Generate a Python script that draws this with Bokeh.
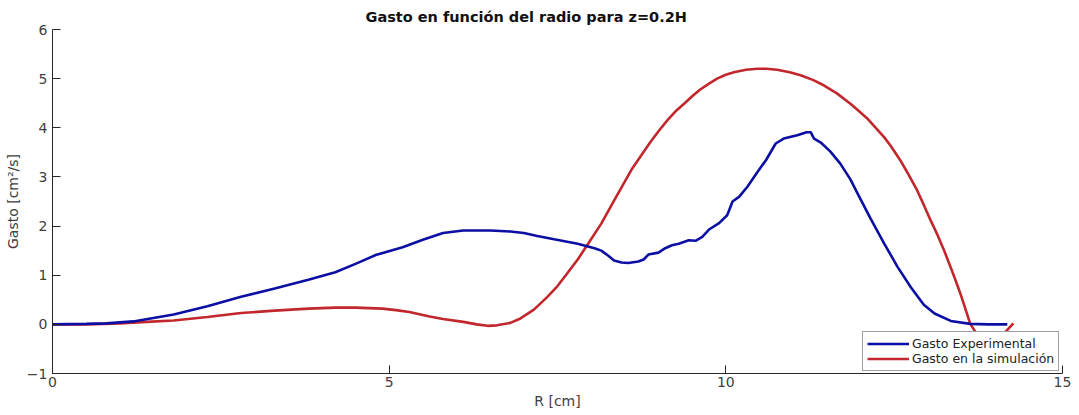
from bokeh.plotting import figure
from bokeh.models import Range1d, FixedTicker, Legend, LegendItem
from bokeh.embed import file_html
from bokeh.resources import INLINE

# Radial flow rate profiles at z = 0.2H
exp_r = [0, 0.5, 0.8, 1.2, 1.8, 2.3, 2.8, 3.3, 3.8, 4.2, 4.5, 4.8, 5.2, 5.5,
         5.8, 6.1, 6.5, 6.8, 7.0, 7.2, 7.45, 7.8, 8.05, 8.15, 8.25, 8.34, 8.45,
         8.55, 8.7, 8.78, 8.85, 9.0, 9.1, 9.2, 9.3, 9.45, 9.55, 9.65, 9.75,
         9.9, 10.02, 10.1, 10.2, 10.32, 10.47, 10.6, 10.74, 10.86, 11.06, 11.2,
         11.26, 11.31, 11.41, 11.55, 11.7, 11.85, 11.95, 12.15, 12.35, 12.55,
         12.75, 12.94, 13.1, 13.34, 13.63, 13.9, 14.18]
exp_q = [0, 0.01, 0.02, 0.06, 0.2, 0.37, 0.56, 0.73, 0.91, 1.06, 1.23, 1.41,
         1.57, 1.72, 1.86, 1.91, 1.91, 1.89, 1.86, 1.8, 1.73, 1.64, 1.55, 1.5,
         1.4, 1.3, 1.26, 1.25, 1.28, 1.32, 1.42, 1.46, 1.55, 1.61, 1.64, 1.71,
         1.7, 1.78, 1.93, 2.06, 2.22, 2.5, 2.6, 2.8, 3.1, 3.35, 3.68, 3.78,
         3.85, 3.91, 3.91, 3.78, 3.7, 3.52, 3.27, 2.95, 2.68, 2.15, 1.65, 1.17,
         0.75, 0.4, 0.22, 0.07, 0.01, 0.0, 0.0]

sim_r = [0, 0.5, 1.0, 1.4, 1.8, 2.3, 2.8, 3.3, 3.8, 4.2, 4.5, 4.9, 5.1, 5.3,
         5.6, 5.8, 6.1, 6.3, 6.46, 6.6, 6.8, 6.95, 7.15, 7.35, 7.5, 7.64, 7.8,
         7.94, 8.15, 8.34, 8.6, 8.88, 9.0, 9.13, 9.25, 9.38, 9.5, 9.62, 9.75,
         9.87, 10.0, 10.12, 10.3, 10.47, 10.6, 10.76, 10.95, 11.11, 11.3,
         11.46, 11.65, 11.85, 11.95, 12.1, 12.2, 12.35, 12.45, 12.59, 12.7,
         12.84, 12.95, 13.04, 13.15, 13.24, 13.35, 13.44, 13.5, 13.63, 13.8,
         14.0, 14.15, 14.27]
sim_q = [0, 0.0, 0.02, 0.05, 0.08, 0.15, 0.23, 0.28, 0.32, 0.34, 0.34, 0.32,
         0.29, 0.25, 0.16, 0.11, 0.05, 0.0, -0.03, -0.02, 0.03, 0.12, 0.3,
         0.56, 0.78, 1.03, 1.32, 1.61, 2.05, 2.52, 3.15, 3.71, 3.93, 4.15,
         4.33, 4.49, 4.64, 4.78, 4.9, 5.0, 5.08, 5.13, 5.18, 5.2, 5.2, 5.18,
         5.13, 5.07, 4.97, 4.86, 4.7, 4.49, 4.37, 4.19, 4.04, 3.81, 3.63, 3.34,
         3.08, 2.73, 2.4, 2.12, 1.8, 1.51, 1.12, 0.79, 0.56, 0.01, -0.35, -0.5,
         -0.16, 0.02]

x_ticks = [0, 5, 10, 15]
y_ticks = [-1, 0, 1, 2, 3, 4, 5, 6]

p = figure(width=1079, height=415,
           x_range=Range1d(0, 15), y_range=Range1d(-1, 6),
           output_backend="svg", toolbar_location=None,
           min_border_left=52, min_border_right=17,
           min_border_top=29, min_border_bottom=42)

p.title.text = "Gasto en función del radio para z=0.2H"
p.title.text_font = "DejaVu Sans"
p.title.text_font_size = "14.5px"
p.title.text_font_style = "bold"
p.title.text_color = "#111111"
p.title.align = "left"
p.title.offset = 313

p.grid.visible = False
p.outline_line_color = None
p.background_fill_color = "white"
p.border_fill_color = "white"

for ax in (p.xaxis[0], p.yaxis[0]):
    ax.axis_line_color = "#262626"
    ax.major_tick_line_color = "#262626"
    ax.major_tick_in = 8
    ax.major_tick_out = 0
    ax.minor_tick_line_color = None
    ax.major_label_text_font = "DejaVu Sans"
    ax.major_label_text_font_size = "14px"
    ax.major_label_text_color = "#404040"
    ax.axis_label_text_font = "DejaVu Sans"
    ax.axis_label_text_font_size = "14px"
    ax.axis_label_text_font_style = "normal"
    ax.axis_label_text_color = "#404040"

p.xaxis[0].ticker = FixedTicker(ticks=x_ticks)
p.yaxis[0].ticker = FixedTicker(ticks=y_ticks)
p.xaxis[0].axis_label = "R [cm]"
p.yaxis[0].axis_label = "Gasto [cm²/s]"
p.xaxis[0].major_label_standoff = 3
p.xaxis[0].axis_label_standoff = 3
p.yaxis[0].major_label_standoff = 5
p.yaxis[0].axis_label_standoff = 3

r_sim = p.line(sim_r, sim_q, line_color="#c1272d", line_width=2.6)
r_exp = p.line(exp_r, exp_q, line_color="#0c0fa4", line_width=2.6)

legend = Legend(items=[LegendItem(label="Gasto Experimental", renderers=[r_exp]),
                       LegendItem(label="Gasto en la simulación", renderers=[r_sim])],
                location=(810, 2))
legend.margin = 0
legend.padding = 4
legend.spacing = 0
legend.glyph_width = 42
legend.glyph_height = 15
legend.label_height = 15
legend.label_standoff = 3
legend.label_text_font = "DejaVu Sans"
legend.label_text_font_size = "12.5px"
legend.label_text_color = "#222222"
legend.border_line_color = "#444444"
legend.border_line_width = 1
legend.background_fill_color = "white"
legend.background_fill_alpha = 1.0
p.add_layout(legend, "center")

open("out.html", "w").write(file_html(p, INLINE))
